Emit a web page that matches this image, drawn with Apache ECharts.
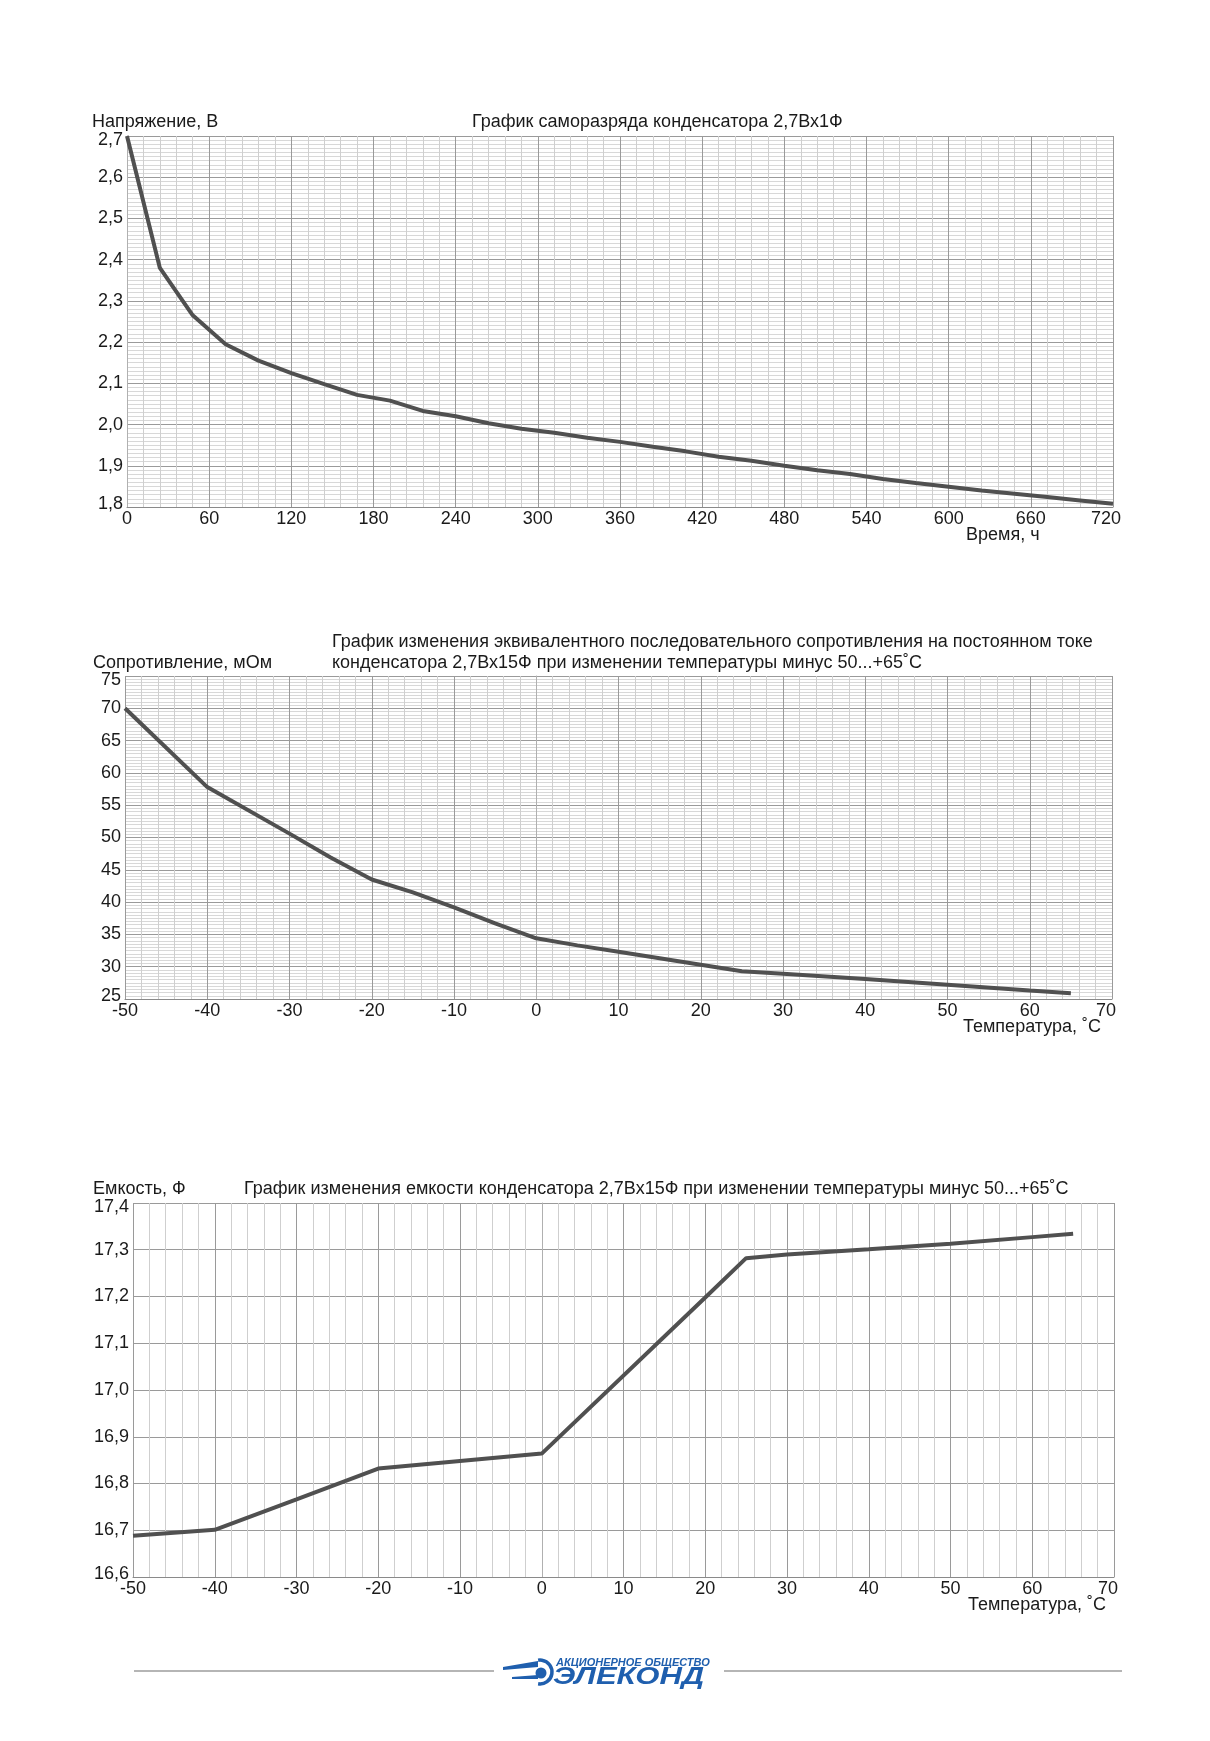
<!DOCTYPE html>
<html>
<head>
<meta charset="utf-8">
<script src="https://cdn.jsdelivr.net/npm/echarts@6/dist/echarts.min.js"></script>
<style>
  html, body { margin: 0; padding: 0; background: #fff; }
  #main { width: 1210px; height: 1741px; }
</style>
</head>
<body>
<div id="main"></div>
<script>
// график саморазряда: время, ч / напряжение, В
var dischargeHours = [0, 24, 48, 72, 96, 120, 144, 168, 192, 216, 240, 264, 288, 312, 336, 360, 384, 408,
  432, 456, 480, 504, 528, 552, 576, 600, 624, 648, 672, 696, 720];
var dischargeVolts = [2.70, 2.38, 2.265, 2.195, 2.155, 2.125, 2.098, 2.072, 2.058, 2.033, 2.020, 2.003, 1.990,
  1.980, 1.968, 1.958, 1.946, 1.935, 1.922, 1.912, 1.900, 1.889, 1.880, 1.868, 1.858, 1.849, 1.840,
  1.832, 1.824, 1.816, 1.808];

// ЭПС: температура, °C / сопротивление, мОм
var esrTemps = [-50, -40, -30, -25, -20, -15, -10, -5, 0, 5, 10, 15, 20, 25, 30, 40, 50, 60, 65];
var esrValues = [70, 57.8, 50.6, 46.9, 43.5, 41.5, 39.2, 36.7, 34.4, 33.3, 32.3, 31.3, 30.3, 29.3,
  28.9, 28.1, 27.2, 26.3, 25.9];

// емкость: температура, °C / емкость, Ф
var capTemps = [-50, -40, -30, -20, -10, 0, 20, 25, 30, 40, 50, 60, 65];
var capValues = [16.688, 16.701, 16.766, 16.832, 16.848, 16.864, 17.198, 17.282, 17.29, 17.301, 17.313,
  17.327, 17.334];

var titles = {
  discharge: 'График саморазряда конденсатора 2,7Вх1Ф',
  esr1: 'График изменения эквивалентного последовательного сопротивления на постоянном токе',
  esr2: 'конденсатора 2,7Вх15Ф при изменении температуры минус 50...+65˚С',
  cap: 'График изменения емкости конденсатора 2,7Вх15Ф при изменении температуры минус 50...+65˚С'
};

var FONT = '"Liberation Sans", Arial, sans-serif';
var FS = 18;
var TXT = '#1a1a1a';
var BLUE = '#1f5fae';

function pairs(xs, ys) {
  return xs.map(function (x, i) { return [x, ys[i]]; });
}
function comma(v) {
  return v.toFixed(1).replace('.', ',');
}
function plain(v) {
  return String(v);
}
function near(a, b) {
  return Math.abs(a - b) < 1e-9;
}
function richStyle(pad) {
  return { fontSize: FS, fontFamily: FONT, color: TXT, padding: pad };
}

// крайние подписи в оригинале чуть сдвинуты внутрь поля
function xAxisOf(idx, min, max, step, minorN, padRight) {
  return {
    type: 'value', gridIndex: idx, min: min, max: max, interval: step,
    axisLine: { show: true, lineStyle: { color: '#8a8a8a', width: 1 } },
    axisTick: { show: false },
    axisLabel: {
      color: TXT, fontSize: FS, fontFamily: FONT, margin: 3,
      formatter: function (v) { return near(v, max) ? '{end|' + v + '}' : String(v); },
      rich: { end: richStyle([0, padRight, 0, 0]) }
    },
    splitLine: { show: true, lineStyle: { color: '#9a9a9a', width: 1 } },
    minorTick: { show: false, splitNumber: minorN },
    minorSplitLine: { show: true, lineStyle: { color: '#cfcfcf', width: 1 } }
  };
}
function yAxisOf(idx, min, max, step, minorN, fmt) {
  var ax = {
    type: 'value', gridIndex: idx, min: min, max: max, interval: step,
    axisLine: { show: true, lineStyle: { color: '#b0b0b0', width: 1 } },
    axisTick: { show: false },
    axisLabel: {
      color: TXT, fontSize: FS, fontFamily: FONT, margin: 4,
      formatter: function (v) {
        var s = fmt(v);
        if (near(v, max)) return '{hi|' + s + '}';
        if (near(v, min)) return '{lo|' + s + '}';
        return s;
      },
      rich: { hi: richStyle([8, 0, 0, 0]), lo: richStyle([0, 0, 6, 0]) }
    },
    splitLine: { show: true, lineStyle: { color: '#9a9a9a', width: 1 } }
  };
  if (minorN) {
    ax.minorTick = { show: false, splitNumber: minorN };
    ax.minorSplitLine = { show: true, lineStyle: { color: '#d8d8d8', width: 1 } };
  }
  return ax;
}
function lineSeries(idx, data) {
  return {
    type: 'line', xAxisIndex: idx, yAxisIndex: idx, data: data,
    showSymbol: false, symbol: 'none', silent: true, animation: false,
    lineStyle: { color: '#505050', width: 4 }
  };
}
function text(x, y, s) {
  return { type: 'text', left: x, top: y, silent: true, style: { text: s, fill: TXT, font: FS + 'px ' + FONT } };
}

var option = {
  animation: false,
  grid: [
    { left: 127, top: 136, width: 986, height: 371 },
    { left: 125, top: 676, width: 987, height: 323 },
    { left: 133, top: 1203, width: 981, height: 374 }
  ],
  xAxis: [
    xAxisOf(0, 0, 720, 60, 5, 14),
    xAxisOf(1, -50, 70, 10, 5, 12),
    xAxisOf(2, -50, 70, 10, 5, 12)
  ],
  yAxis: [
    yAxisOf(0, 1.8, 2.7, 0.1, 10, comma),
    yAxisOf(1, 25, 75, 5, 10, plain),
    yAxisOf(2, 16.6, 17.4, 0.1, 0, comma)
  ],
  series: [
    lineSeries(0, pairs(dischargeHours, dischargeVolts)),
    lineSeries(1, pairs(esrTemps, esrValues)),
    lineSeries(2, pairs(capTemps, capValues))
  ],
  graphic: [
    // график 1
    text(92, 113, 'Напряжение, В'),
    text(472, 113, titles.discharge),
    text(966, 526, 'Время, ч'),
    // график 2
    text(332, 633, titles.esr1),
    text(332, 654, titles.esr2),
    text(93, 654, 'Сопротивление, мОм'),
    text(963, 1018, 'Температура, ˚С'),
    // график 3
    text(93, 1180, 'Емкость, Ф'),
    text(244, 1180, titles.cap),
    text(968, 1596, 'Температура, ˚С'),
    // подвал с логотипом
    { type: 'line', silent: true, shape: { x1: 134, y1: 1671, x2: 494, y2: 1671 }, style: { stroke: '#b5b5b5', lineWidth: 2 } },
    { type: 'line', silent: true, shape: { x1: 724, y1: 1671, x2: 1122, y2: 1671 }, style: { stroke: '#b5b5b5', lineWidth: 2 } },
    { type: 'polygon', silent: true, shape: { points: [[503, 1667], [538, 1661], [538, 1667], [503, 1670]] }, style: { fill: BLUE } },
    { type: 'polygon', silent: true, shape: { points: [[512, 1677], [538, 1675], [538, 1679], [512, 1679]] }, style: { fill: BLUE } },
    { type: 'arc', silent: true, shape: { cx: 540, cy: 1672, r: 12, startAngle: Math.PI * 0.55, endAngle: Math.PI * 1.45, clockwise: false }, style: { stroke: BLUE, lineWidth: 3.5, fill: null } },
    { type: 'circle', silent: true, shape: { cx: 541, cy: 1673, r: 5.5 }, style: { fill: BLUE } },
    { type: 'text', left: 556, top: 1657, silent: true, style: { text: 'АКЦИОНЕРНОЕ ОБЩЕСТВО', fill: BLUE, font: 'italic bold 11px ' + FONT } },
    { type: 'text', left: 553, top: 1666, silent: true, scaleX: 1.35, style: { text: 'ЭЛЕКОНД', fill: BLUE, font: 'italic 900 23px ' + FONT } }
  ]
};

var chart = echarts.init(document.getElementById('main'), null, { renderer: 'canvas' });
chart.setOption(option);
</script>
</body>
</html>
